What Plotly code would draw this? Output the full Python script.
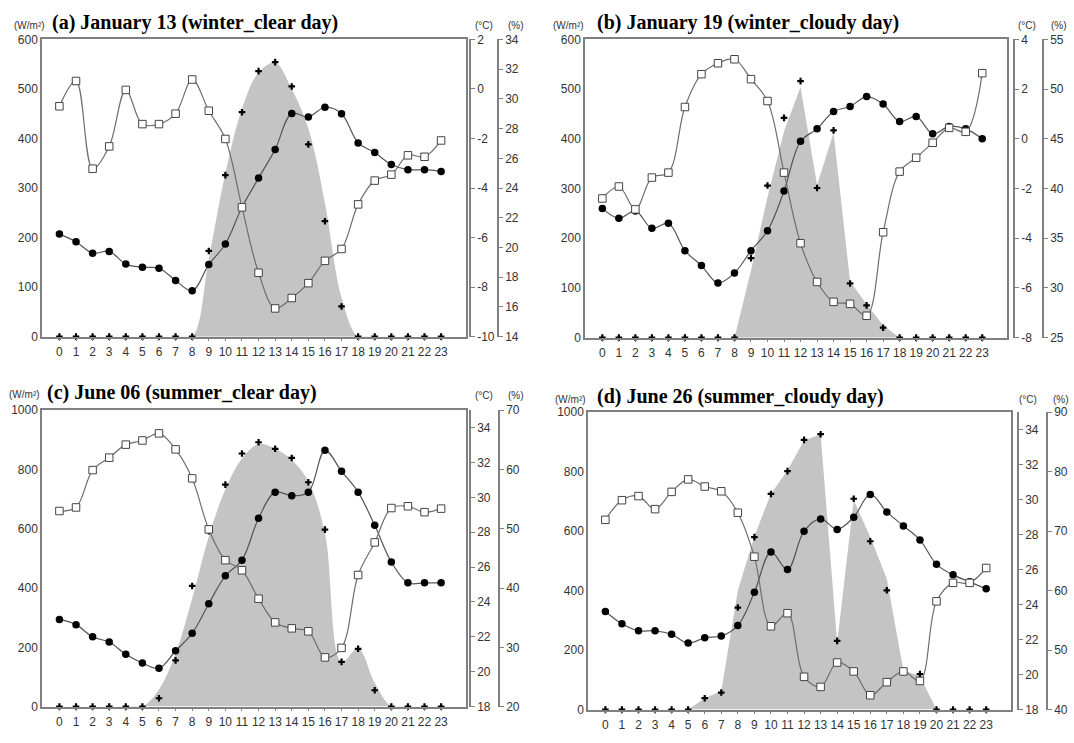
import plotly.graph_objects as go

# ---------------- data ----------------
hours = list(range(24))

# (a) January 13 (winter clear day)
rad_a = [0, 0, 0, 0, 0, 0, 0, 0, 0, 173, 326, 453, 536, 554, 505, 388, 233, 61, 0, 0, 0, 0, 0, 0]
area_a = [0, 0, 0, 0, 0, 0, 0, 0, 0, 158, 330, 460, 533, 553, 500, 420, 270, 79, 0, 0, 0, 0, 0, 0]
temp_a = [-5.86, -6.17, -6.63, -6.56, -7.07, -7.2, -7.24, -7.73, -8.15, -7.09, -6.26, -4.78,
          -3.6, -2.44, -0.99, -1.13, -0.74, -1.0, -2.18, -2.57, -3.05, -3.26, -3.26, -3.33]
hum_a = [29.5, 31.2, 25.3, 26.8, 30.6, 28.3, 28.3, 29.0, 31.3, 29.2, 27.3, 22.7,
         18.3, 15.9, 16.6, 17.6, 19.1, 19.9, 22.9, 24.5, 24.9, 26.2, 26.1, 27.2]

# (b) January 19 (winter cloudy day)
rad_b = [0, 0, 0, 0, 0, 0, 0, 0, 0, 160, 306, 442, 516, 301, 417, 109, 65, 20, 0, 0, 0, 0, 0, 0]
area_b = [0, 0, 0, 0, 0, 0, 0, 0, 0, 135, 283, 415, 504, 307, 412, 113, 67, 25, 0, 0, 0, 0, 0, 0]
temp_b = [-2.8, -3.2, -2.9, -3.6, -3.4, -4.5, -5.1, -5.8, -5.4, -4.5, -3.7, -2.1,
          -0.1, 0.4, 1.1, 1.3, 1.7, 1.4, 0.7, 0.9, 0.2, 0.5, 0.4, 0.0]
hum_b = [39.0, 40.2, 37.9, 41.1, 41.6, 48.2, 51.5, 52.6, 53.0, 51.0, 48.8, 41.6,
         34.5, 30.6, 28.6, 28.4, 27.2, 35.6, 41.7, 43.1, 44.6, 46.1, 45.7, 51.6]

# (c) June 06 (summer clear day)
rad_c = [0, 0, 0, 0, 0, 0, 28, 156, 407, 592, 749, 854, 892, 870, 839, 757, 597, 151, 195, 55, 0, 0, 0, 0]
area_c = [0, 0, 0, 0, 0, 0, 58, 179, 365, 574, 733, 837, 886, 870, 832, 760, 585, 151, 196, 80, 0, 0, 0, 0]
temp_c = [23.0, 22.7, 22.0, 21.7, 21.0, 20.5, 20.2, 21.2, 22.2, 23.9, 25.5, 26.4,
          28.8, 30.3, 30.1, 30.3, 32.7, 31.5, 30.3, 28.4, 26.3, 25.1, 25.1, 25.1]
hum_c = [53.0, 53.6, 59.9, 62.0, 64.2, 64.9, 66.1, 63.4, 58.5, 49.9, 44.7, 43.0,
         38.2, 34.2, 33.2, 32.7, 28.3, 29.9, 42.2, 47.7, 53.5, 53.8, 52.8, 53.4]

# (d) June 26 (summer cloudy day)
rad_d = [0, 0, 0, 0, 0, 0, 38, 57, 343, 580, 725, 802, 907, 926, 231, 709, 566, 401, 126, 119, 0, 0, 0, 0]
area_d = [0, 0, 0, 0, 0, 0, 38, 62, 400, 583, 726, 805, 905, 926, 225, 704, 580, 440, 132, 112, 0, 0, 0, 0]
temp_d = [23.6, 22.9, 22.5, 22.5, 22.3, 21.8, 22.1, 22.2, 22.8, 24.7, 27.0, 26.0,
          28.2, 28.9, 28.3, 29.0, 30.3, 29.3, 28.5, 27.7, 26.3, 25.7, 25.3, 24.9]
hum_d = [71.9, 75.2, 75.9, 73.7, 76.6, 78.7, 77.5, 76.7, 73.1, 65.7, 54.0, 56.2,
         45.5, 43.8, 47.9, 46.4, 42.4, 44.6, 46.4, 44.8, 58.2, 61.3, 61.3, 63.8]

titles = ["(a) January 13 (winter_clear day)", "(b) January 19 (winter_cloudy day)",
          "(c) June 06 (summer_clear day)", "(d) June 26 (summer_cloudy day)"]
unit_labels = ["(W/m\u00b2)", "(\u00b0C)", "(%)"]

# ---------------- layout settings ----------------
W, H = 1074, 743
panels = [
    dict(rad=rad_a, area=area_a, temp=temp_a, hum=hum_a, area_shape="spline",
         box=(42, 466, 33, 336), rpos=(470, 498),
         wr=(0, 600, 100), tr=(-10, 2, 2), hr=(14, 34, 2),
         title_xy=(50, 16), units_xy=((29, 19), (484, 19), (516, 19))),
    dict(rad=rad_b, area=area_b, temp=temp_b, hum=hum_b, area_shape="linear",
         box=(585, 1007, 33, 337), rpos=(1014, 1043),
         wr=(0, 600, 100), tr=(-8, 4, 2), hr=(25, 55, 5),
         title_xy=(595, 16), units_xy=((568, 19), (1027, 19), (1059, 19))),
    dict(rad=rad_c, area=area_c, temp=temp_c, hum=hum_c, area_shape="spline",
         box=(42, 466, 411, 713), rpos=(470, 499),
         wr=(0, 1000, 200), tr=(18, 35, 2), hr=(20, 70, 10),
         title_xy=(45, 393), units_xy=((24, 395), (484, 396), (516, 396))),
    dict(rad=rad_d, area=area_d, temp=temp_d, hum=hum_d, area_shape="linear",
         box=(588, 1011, 413, 716), rpos=(1018, 1047),
         wr=(0, 1000, 200), tr=(18, 35, 2), hr=(40, 90, 10),
         title_xy=(595, 397), units_xy=((570, 400), (1028, 400), (1061, 400))),
]

FRAME = "#808080"
TXT = "#333333"
SANS = "Liberation Sans, Arial, sans-serif"
SERIF = "Liberation Serif, Times New Roman, serif"


def tick_list(lo, hi, step):
    vals = []
    v = lo
    while v <= hi + 1e-9:
        vals.append(v)
        v += step
    return vals, [str(int(v)) for v in vals]  # plain hyphen minus like the original


fig = go.Figure()
layout = dict(width=W, height=H, margin=dict(l=0, r=0, t=0, b=0),
              paper_bgcolor="white", plot_bgcolor="white", showlegend=False,
              annotations=[])

for i, p in enumerate(panels):
    xn = i + 1
    yl, yt, yh = 3 * i + 1, 3 * i + 2, 3 * i + 3
    xs = "x" if xn == 1 else f"x{xn}"
    yls = "y" if yl == 1 else f"y{yl}"
    x0, x1, y0, y1 = p["box"]
    xdom = [x0 / W, x1 / W]
    ydom = [1 - y1 / H, 1 - y0 / H]

    # solar radiation area
    fig.add_trace(go.Scatter(x=hours, y=p["area"], mode="lines", fill="tozeroy",
                             fillcolor="#c4c4c4", line=dict(width=0, color="#c4c4c4",
                                                            shape=p["area_shape"]),
                             xaxis=xs, yaxis=yls, hoverinfo="skip"))
    # humidity (open squares)
    fig.add_trace(go.Scatter(x=hours, y=p["hum"], mode="lines+markers",
                             line=dict(color="#6e6e6e", width=1.2, shape="spline"),
                             marker=dict(symbol="square", size=7.5, color="white",
                                         line=dict(color="#444444", width=1)),
                             xaxis=xs, yaxis=f"y{yh}", cliponaxis=False))
    # temperature (filled circles)
    fig.add_trace(go.Scatter(x=hours, y=p["temp"], mode="lines+markers",
                             line=dict(color="#555555", width=1.2, shape="spline"),
                             marker=dict(symbol="circle", size=7.5, color="black"),
                             xaxis=xs, yaxis=f"y{yt}", cliponaxis=False))
    # solar radiation points (plus)
    fig.add_trace(go.Scatter(x=hours, y=p["rad"], mode="markers",
                             marker=dict(symbol="cross", size=5.5, color="black"),
                             xaxis=xs, yaxis=yls, cliponaxis=False))

    xkey = "xaxis" if xn == 1 else f"xaxis{xn}"
    layout[xkey] = dict(domain=xdom, anchor=yls, range=[-1.05, 24.5],
                        tickmode="array", tickvals=hours, ticktext=[str(h) for h in hours],
                        showline=True, mirror=True, linecolor=FRAME, linewidth=1.5,
                        ticks="outside", ticklen=3, tickcolor=FRAME, showgrid=False,
                        zeroline=False, tickfont=dict(family=SANS, size=12, color=TXT))
    wmin, wmax, wstep = p["wr"]
    layout["yaxis" if yl == 1 else f"yaxis{yl}"] = dict(
        domain=ydom, anchor=xs, range=[wmin, wmax], dtick=wstep, tick0=0,
        showline=True, mirror=True, linecolor=FRAME, linewidth=1.5,
        ticks="", showgrid=False, zeroline=False,
        tickfont=dict(family=SANS, size=12, color=TXT))
    tmin, tmax, tstep = p["tr"]
    tv, tt = tick_list(tmin, tmax, tstep)
    layout[f"yaxis{yt}"] = dict(
        overlaying=yls, side="right", anchor="free", position=p["rpos"][0] / W,
        range=[tmin, tmax], tickmode="array", tickvals=tv, ticktext=tt,
        showline=True, linecolor=FRAME,
        linewidth=1.5, ticks="outside", ticklen=4, tickcolor=FRAME, showgrid=False,
        zeroline=False, tickfont=dict(family=SANS, size=12, color=TXT))
    hmin, hmax, hstep = p["hr"]
    hv, ht = tick_list(hmin, hmax, hstep)
    layout[f"yaxis{yh}"] = dict(
        overlaying=yls, side="right", anchor="free", position=p["rpos"][1] / W,
        range=[hmin, hmax], tickmode="array", tickvals=hv, ticktext=ht,
        showline=True, linecolor=FRAME,
        linewidth=1.5, ticks="outside", ticklen=4, tickcolor=FRAME, showgrid=False,
        zeroline=False, tickfont=dict(family=SANS, size=12, color=TXT))

    tx, ty = p["title_xy"]
    layout["annotations"].append(dict(
        text=f"<b>{titles[i]}</b>", x=tx / W, y=1 - ty / H, xref="paper", yref="paper",
        xanchor="left", yanchor="middle", showarrow=False,
        font=dict(family=SERIF, size=20, color="black")))
    for lab, (ux, uy) in zip(unit_labels, p["units_xy"]):
        layout["annotations"].append(dict(
            text=lab, x=ux / W, y=1 - uy / H, xref="paper", yref="paper",
            xanchor="center", yanchor="middle", showarrow=False,
            font=dict(family=SANS, size=10, color=TXT)))

fig.update_layout(**layout)
fig.write_html("out.html", config={"displayModeBar": False},
               post_script="document.body.style.margin='0';document.body.style.overflow='hidden';")
